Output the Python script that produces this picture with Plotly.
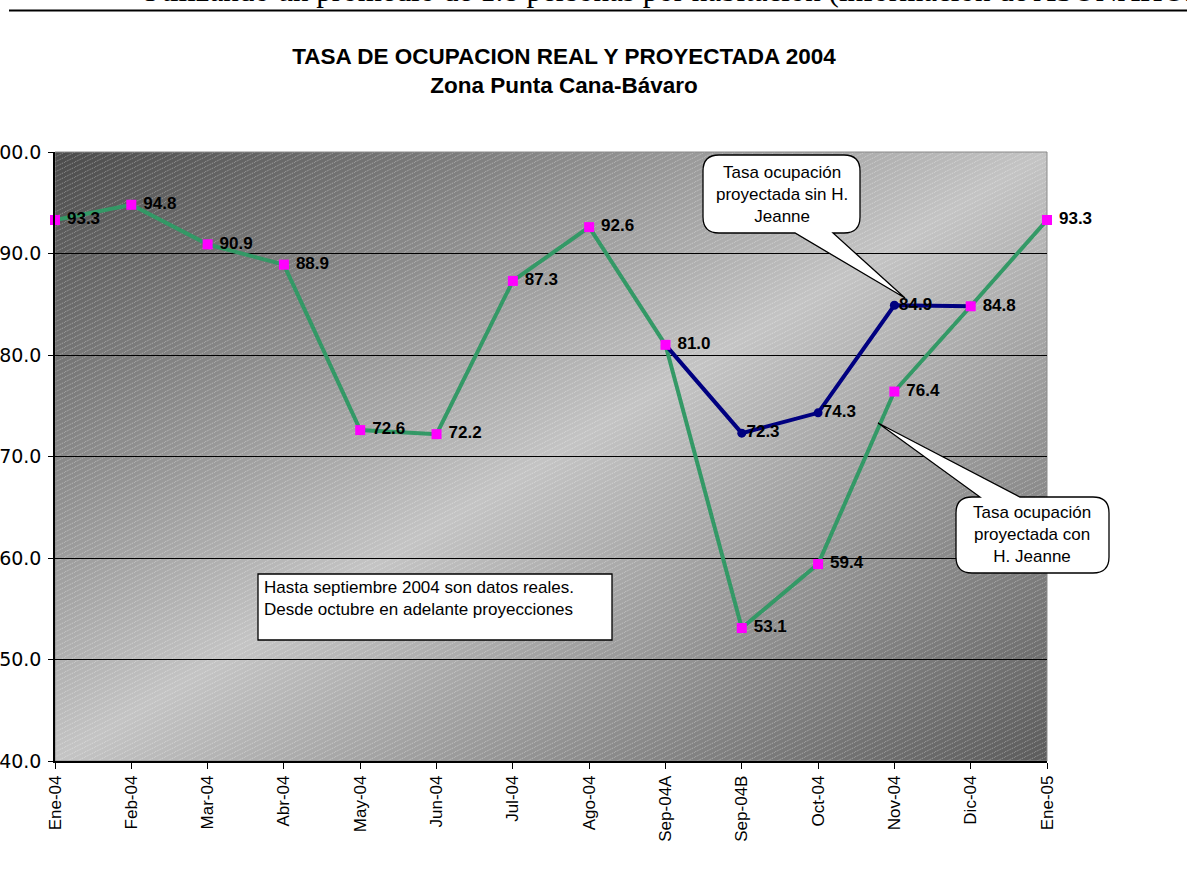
import base64
import plotly.graph_objects as go

# ---------------- data ----------------
months = ["Ene-04", "Feb-04", "Mar-04", "Abr-04", "May-04", "Jun-04", "Jul-04",
          "Ago-04", "Sep-04A", "Sep-04B", "Oct-04", "Nov-04", "Dic-04", "Ene-05"]
con_jeanne = [93.3, 94.8, 90.9, 88.9, 72.6, 72.2, 87.3, 92.6, 81.0, 53.1, 59.4, 76.4, 84.8, 93.3]
sin_jeanne = [None, None, None, None, None, None, None, None, 81.0, 72.3, 74.3, 84.9, 84.8, None]
y_ticks = [40, 50, 60, 70, 80, 90, 100]

title_l1 = "TASA DE OCUPACION REAL Y PROYECTADA 2004"
title_l2 = "Zona Punta Cana-Bávaro"
top_text = "Utilizando un promedio de 1.8 personas por habitación (información de ASONAHORES)"
note_text = "Hasta septiembre 2004 son datos reales.<br>Desde octubre en adelante proyecciones"
call_sin = "Tasa ocupación<br>proyectada sin H.<br>Jeanne"
call_con = "Tasa ocupación<br>proyectada con<br>H. Jeanne"

# ---------------- geometry (page pixels -> paper) ----------------
W, H = 1187, 874
PL, PR, PT, PB = 55, 1047, 152, 761


def px(X):
    return (X - PL) / (PR - PL)


def py(Y):
    return (PB - Y) / (PB - PT)


# background: diagonal gradient + fine light hatch
svg = f'''<svg xmlns="http://www.w3.org/2000/svg" width="{PR-PL}" height="{PB-PT}" viewBox="0 0 {PR-PL} {PB-PT}" preserveAspectRatio="none">
<defs>
<linearGradient id="g" x1="0" y1="0" x2="1" y2="1">
<stop offset="0" stop-color="#4b4b4b"/>
<stop offset="0.5" stop-color="#c4c4c4"/>
<stop offset="1" stop-color="#5c5c5c"/>
</linearGradient>
<pattern id="p" width="10" height="5" patternUnits="userSpaceOnUse">
<line x1="0" y1="5" x2="10" y2="0" stroke="#ffffff" stroke-opacity="0.38" stroke-width="0.9" stroke-dasharray="1.5,1"/>
</pattern>
</defs>
<rect x="0" y="0" width="{PR-PL}" height="{PB-PT}" fill="url(#g)"/>
<rect x="0" y="0" width="{PR-PL}" height="{PB-PT}" fill="url(#p)"/>
</svg>'''
bg_src = "data:image/svg+xml;base64," + base64.b64encode(svg.encode("utf-8")).decode("ascii")

GREEN = "#339966"
NAVY = "#000080"
MAG = "#FF00FF"
LBL_FONT = dict(family="Arial, Liberation Sans", size=17, color="black", weight="bold")

fig = go.Figure()

# green line (con Jeanne)
fig.add_trace(go.Scatter(x=months, y=con_jeanne, mode="lines",
                         line=dict(color=GREEN, width=4), showlegend=False,
                         hoverinfo="skip"))
# navy line (sin Jeanne)
fig.add_trace(go.Scatter(x=months, y=sin_jeanne, mode="lines+markers",
                         line=dict(color=NAVY, width=4),
                         marker=dict(color=NAVY, size=9, symbol="circle"),
                         showlegend=False, connectgaps=False, hoverinfo="skip",
                         cliponaxis=False))
# magenta markers + labels
fig.add_trace(go.Scatter(x=months, y=con_jeanne, mode="markers+text",
                         marker=dict(color=MAG, size=10, symbol="square"),
                         text=[f" {v:.1f}" for v in con_jeanne],
                         textposition="middle right", textfont=LBL_FONT,
                         cliponaxis=False, showlegend=False))
# navy labels for points not shared with green
sin_only = [v if (v is not None and v != c) else None for v, c in zip(sin_jeanne, con_jeanne)]
fig.add_trace(go.Scatter(x=months, y=sin_only, mode="text",
                         text=[f" {v:.1f}" if v is not None else "" for v in sin_only],
                         textposition="middle right", textfont=LBL_FONT,
                         cliponaxis=False, showlegend=False))


def build(pts):
    s = ""
    for item in pts:
        cmd = item[0]
        coords = " ".join(f"{px(X):.5f},{py(Y):.5f}" for X, Y in item[1:])
        s += f"{cmd} {coords} "
    return s + "Z"


def callout_bottom(L, R, T, B, r, b1, b2, tip):
    tx, ty = tip
    pts = [("M", (L + r, T)), ("L", (R - r, T)), ("Q", (R, T), (R, T + r)),
           ("L", (R, B - r)), ("Q", (R, B), (R - r, B)), ("L", (b2, B)),
           ("L", (tx, ty)), ("L", (b1, B)), ("L", (L + r, B)),
           ("Q", (L, B), (L, B - r)), ("L", (L, T + r)), ("Q", (L, T), (L + r, T))]
    return build(pts)


def callout_top(L, R, T, B, r, b1, b2, tip):
    tx, ty = tip
    pts = [("M", (L + r, T)), ("L", (b1, T)), ("L", (tx, ty)), ("L", (b2, T)),
           ("L", (R - r, T)), ("Q", (R, T), (R, T + r)),
           ("L", (R, B - r)), ("Q", (R, B), (R - r, B)), ("L", (L + r, B)),
           ("Q", (L, B), (L, B - r)), ("L", (L, T + r)), ("Q", (L, T), (L + r, T))]
    return build(pts)


shapes = [
    dict(type="rect", xref="paper", yref="paper", x0=0, x1=1, y0=0, y1=1,
         line=dict(color="#8a8a8a", width=1), layer="below"),
    dict(type="line", xref="paper", yref="paper", x0=px(9), x1=px(W + 5),
         y0=py(10.5), y1=py(10.5), line=dict(color="black", width=2.2)),
    dict(type="rect", xref="paper", yref="paper", x0=px(258), x1=px(612),
         y0=py(574), y1=py(640), fillcolor="white", line=dict(color="black", width=1.3)),
    dict(type="path", xref="paper", yref="paper",
         path=callout_bottom(703, 860, 155, 233, 16, 795, 833, (905, 298)),
         fillcolor="white", line=dict(color="black", width=1.3)),
    dict(type="path", xref="paper", yref="paper",
         path=callout_top(956, 1109, 497, 573, 16, 980, 1020, (878, 423)),
         fillcolor="white", line=dict(color="black", width=1.3)),
]

annos = [
    dict(xref="paper", yref="paper", x=px(137), y=py(-10), xanchor="left", yanchor="middle",
         text=top_text, showarrow=False,
         font=dict(family="Times New Roman, Liberation Serif, serif", size=31, color="black")),
    dict(xref="paper", yref="paper", x=px(262), y=py(576), xanchor="left", yanchor="top",
         text=note_text, showarrow=False, align="left",
         font=dict(family="Arial, Liberation Sans", size=17, color="black")),
    dict(xref="paper", yref="paper", x=px(782), y=py(194), xanchor="center", yanchor="middle",
         text=call_sin, showarrow=False, align="center",
         font=dict(family="Arial, Liberation Sans", size=17, color="black")),
    dict(xref="paper", yref="paper", x=px(1032), y=py(534), xanchor="center", yanchor="middle",
         text=call_con, showarrow=False, align="center",
         font=dict(family="Arial, Liberation Sans", size=17, color="black")),
]

fig.update_layout(
    width=W, height=H, autosize=False,
    margin=dict(l=PL, r=W - PR, t=PT, b=H - PB, pad=0),
    paper_bgcolor="white", plot_bgcolor="#a0a0a0",
    title=dict(text=f"<b>{title_l1}</b><br><b>{title_l2}</b>",
               x=px(564), xref="paper", xanchor="center",
               y=1 - 64 / H, yref="container", yanchor="top",
               font=dict(family="Arial, Liberation Sans", size=22.5, color="black")),
    images=[dict(source=bg_src, xref="paper", yref="paper", x=0, y=1, sizex=1, sizey=1,
                 xanchor="left", yanchor="top", sizing="stretch", layer="below")],
    shapes=shapes,
    annotations=annos,
    showlegend=False,
)

fig.update_xaxes(type="category", categoryorder="array", categoryarray=months,
                 range=[0, len(months) - 1], showgrid=False, zeroline=False,
                 showline=True, linecolor="black", linewidth=1.5,
                 ticks="outside", ticklen=6, tickcolor="black", tickwidth=1,
                 tickangle=-90, automargin=False,
                 tickfont=dict(family="Arial, Liberation Sans", size=17, color="black"))
fig.update_yaxes(range=[40, 100], tickvals=y_ticks, tickformat=".1f",
                 showgrid=True, gridcolor="black", gridwidth=1, zeroline=False,
                 showline=True, linecolor="black", linewidth=1.5,
                 ticks="outside", ticklen=5, tickcolor="black", tickwidth=1,
                 automargin=False, ticklabelstandoff=3,
                 tickfont=dict(family="DejaVu Sans, Arial", size=19, color="black"))

fig.write_html("out.html", config={"displayModeBar": False},
               post_script="document.body.style.margin='0px';")
